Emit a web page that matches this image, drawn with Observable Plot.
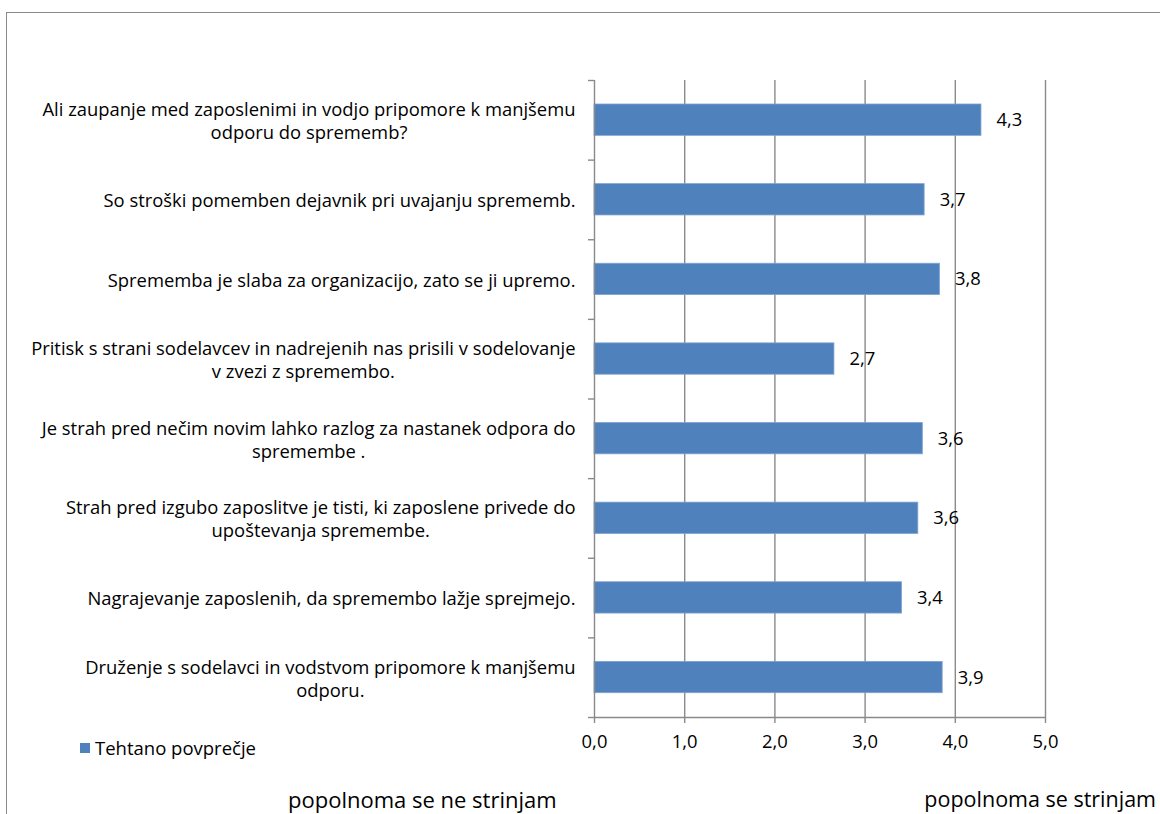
<!DOCTYPE html>
<html>
<head>
<meta charset="utf-8">
<script src="https://cdn.jsdelivr.net/npm/d3@7"></script>
<script src="https://cdn.jsdelivr.net/npm/@observablehq/plot@0.6"></script>
<style>
  html, body { margin: 0; padding: 0; background: #fff; }
  #wrap { position: relative; width: 1160px; height: 814px; overflow: hidden; font-family: "Open Sans", sans-serif; color: #000; }
  #frame { position: absolute; left: 6px; top: 12px; width: 1300px; height: 1000px; border: 1.5px solid #8a8a8a; box-sizing: border-box; }
  #chart { position: absolute; left: 0; top: 0; }
  .legend { position: absolute; left: 80px; top: 735px; font-size: 18.5px; display: flex; align-items: center; }
  .legend .sw { width: 10px; height: 10px; background: #4f81bd; margin-right: 5px; }
  .bottom { position: absolute; top: 784px; font-size: 22px; white-space: nowrap; }
</style>
</head>
<body>
<div id="wrap">
  <div id="frame"></div>
  <div id="chart"></div>
  <div class="legend"><span class="sw"></span><span id="legendText"></span></div>
  <div class="bottom" id="leftNote" style="left:288px"></div>
  <div class="bottom" id="rightNote" style="right:4px; font-size:21.5px"></div>
</div>
<script>
const categories = [
  "Ali zaupanje med zaposlenimi in vodjo pripomore k manjšemu\nodporu do sprememb?",
  "So stroški pomemben dejavnik pri uvajanju sprememb.",
  "Sprememba je slaba za organizacijo, zato se ji upremo.",
  "Pritisk s strani sodelavcev in nadrejenih nas prisili v sodelovanje\nv zvezi z spremembo.",
  "Je strah pred nečim novim lahko razlog za nastanek odpora do\nspremembe .",
  "Strah pred izgubo zaposlitve je tisti, ki zaposlene privede do\nupoštevanja spremembe.",
  "Nagrajevanje zaposlenih, da spremembo lažje sprejmejo.",
  "Druženje s sodelavci in vodstvom pripomore k manjšemu\nodporu."
];
const values = [4.29, 3.66, 3.83, 2.66, 3.64, 3.59, 3.41, 3.86];
const xTicks = [0, 1, 2, 3, 4, 5];
const seriesName = "Tehtano povprečje";
const leftNote = "popolnoma se ne strinjam";
const rightNote = "popolnoma se strinjam";

document.getElementById("legendText").textContent = seriesName;
document.getElementById("leftNote").textContent = leftNote;
document.getElementById("rightNote").textContent = rightNote;

const fontFamily = '"Open Sans", sans-serif';
const fontSize = 18.4;
const data = categories.map((c, i) => ({category: c, index: i, value: values[i]}));
const fmt = d => d.toFixed(1).replace(".", ",");

const ctx = document.createElement("canvas").getContext("2d");
ctx.font = `${fontSize}px ${fontFamily}`;
const maxW = s => Math.max(...s.split("\n").map(l => ctx.measureText(l).width));

const labelMarks = data.map(d => Plot.text([d], {
  x: () => 0,
  y: r => r.index + 0.5,
  text: "category",
  textAnchor: "middle",
  lineHeight: 1.25,
  fontSize,
  fill: "#000",
  dx: -(19 + maxW(d.category) / 2)
}));

const chart = Plot.plot({
  width: 1160,
  height: 814,
  marginLeft: 594,
  marginRight: 115,
  marginTop: 80,
  marginBottom: 97,
  style: {fontFamily, fontSize: fontSize + "px", color: "#000", background: "transparent"},
  x: {domain: [0, 5]},
  y: {domain: [0, categories.length], reverse: true},
  marks: [
    Plot.ruleX(xTicks.filter(t => t > 0), {stroke: "#8a8a8a", strokeWidth: 1.4}),
    Plot.rectX(data, {
      x1: () => 0, x2: "value",
      y1: "index", y2: d => d.index + 1,
      insetTop: 24, insetBottom: 24.3,
      fill: "#4f81bd", stroke: "#7ea3d3", strokeWidth: 0.8
    }),
    Plot.ruleX([0], {stroke: "#8a8a8a", strokeWidth: 1.4}),
    Plot.ruleY([categories.length], {stroke: "#8a8a8a", strokeWidth: 1.4}),
    Plot.axisX({ticks: xTicks, tickSize: 6, tickPadding: 11, tickFormat: fmt, stroke: "#8a8a8a", strokeWidth: 1.4, fill: "#000", fontSize, label: null}),
    Plot.axisY({ticks: d3.range(categories.length + 1), tickSize: 6, tickFormat: () => "", stroke: "#8a8a8a", strokeWidth: 1.4, label: null}),
    ...labelMarks,
    Plot.text(data, {
      x: "value", y: d => d.index + 0.5,
      text: d => fmt(d.value),
      dx: 15, textAnchor: "start", fontSize, fill: "#000"
    })
  ]
});
document.getElementById("chart").appendChild(chart);
</script>
</body>
</html>
